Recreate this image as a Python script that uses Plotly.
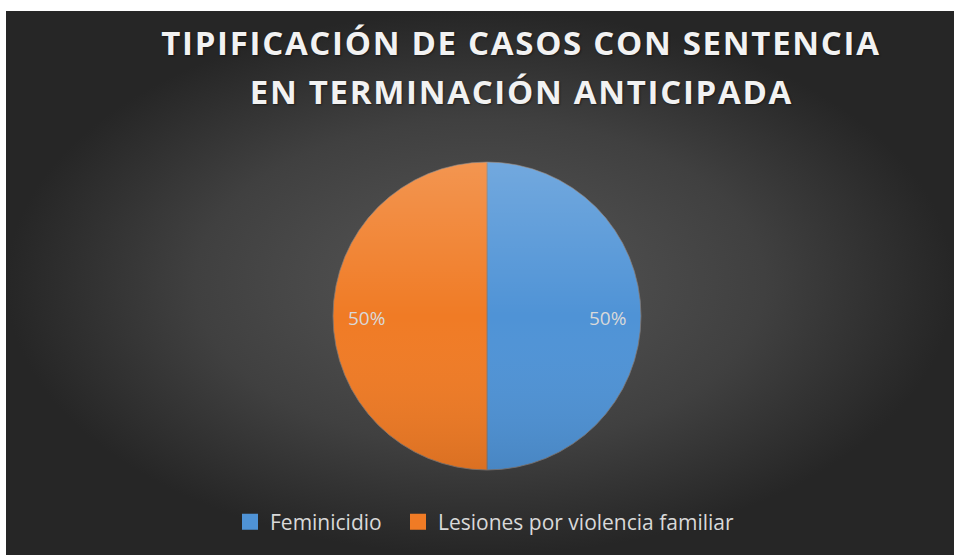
import math
import urllib.parse
import plotly.graph_objects as go

categories = ["Feminicidio", "Lesiones por violencia familiar"]
values = [50, 50]
colors = ["#4f93d6", "#f07b25"]
title_lines = ["TIPIFICACIÓN DE CASOS CON SENTENCIA", "EN TERMINACIÓN ANTICIPADA"]

W, H = 954, 555
bg_x0, bg_y0 = 6 / W, 11 / H  # white margin at left / top

# pie geometry (pixels)
pie_l, pie_r, pie_t, pie_b = 333, 641, 162, 470
cx, cy = (pie_l + pie_r) / 2, (pie_t + pie_b) / 2
rad = (pie_r - pie_l) / 2
pie_dom_x = [pie_l / W, pie_r / W]
pie_dom_y = [1 - pie_b / H, 1 - pie_t / H]

fig = go.Figure()

# background panel with radial gradient
fig.add_trace(go.Scatter(
    x=[0, 1, 1, 0, 0], y=[0, 0, 1, 1, 0], mode="lines", fill="toself",
    line=dict(width=0), hoverinfo="skip", showlegend=False,
    fillgradient=dict(type="radial", colorscale=[[0, "#575757"], [0.6, "#404040"], [1, "#262626"]]),
))

fig.add_trace(go.Pie(
    labels=categories, values=values, sort=False, direction="clockwise", rotation=0,
    marker=dict(colors=colors, line=dict(color="rgba(130,120,115,0.8)", width=1)),
    textinfo="none",
    domain=dict(x=pie_dom_x, y=pie_dom_y),
    hoverinfo="skip", showlegend=False,
))

# legend entries (square markers), one legend per entry for exact placement
legend_names = ["legend", "legend2"]
for name, col, lg in zip(categories, colors, legend_names):
    fig.add_trace(go.Scatter(
        x=[None], y=[None], mode="markers", name=name, legend=lg,
        marker=dict(symbol="square", size=16, color=col, line=dict(width=0)),
        showlegend=True, hoverinfo="skip",
    ))

annotations = []
# percentage labels
total = sum(values)
start = 0.0
for v in values:
    mid = (start + v / 2) / total * 2 * math.pi  # clockwise from 12 o'clock
    start += v
    px = cx + 0.78 * rad * math.sin(mid)
    py = cy - 0.78 * rad * math.cos(mid) + 2
    annotations.append(dict(
        text=f"{round(100 * v / total)}%", x=px / W, y=1 - py / H, xref="paper", yref="paper",
        showarrow=False, xanchor="center", yanchor="middle",
        font=dict(family="Open Sans", size=19, color="#d9d9d9"),
    ))

# title lines
for line, ymid in zip(title_lines, [43, 91]):
    annotations.append(dict(
        text=line, x=521 / W, y=1 - ymid / H, xref="paper", yref="paper",
        showarrow=False, xanchor="center", yanchor="middle",
        font=dict(family="Open Sans", size=33, color="#f2f2f2", weight="bold",
                  shadow="1px 1px 2px rgba(0,0,0,0.45)"),
    ))

# soft vertical shading over the pie disc (light top -> darker bottom)
shade_svg = (
    "<svg xmlns='http://www.w3.org/2000/svg' viewBox='0 0 100 100' preserveAspectRatio='none'>"
    "<defs><linearGradient id='g' x1='0' y1='0' x2='0' y2='1'>"
    "<stop offset='0' stop-color='white' stop-opacity='0.2'/>"
    "<stop offset='0.5' stop-color='white' stop-opacity='0'/>"
    "<stop offset='1' stop-color='black' stop-opacity='0.09'/>"
    "</linearGradient></defs>"
    "<circle cx='50' cy='50' r='50' fill='url(#g)'/></svg>"
)
shade_src = "data:image/svg+xml;charset=utf-8," + urllib.parse.quote(shade_svg)

legend_style = dict(
    orientation="h", xanchor="left", y=1 - 522 / H, yanchor="middle",
    font=dict(family="Open Sans", size=21, color="#d9d9d9"),
    bgcolor="rgba(0,0,0,0)", itemwidth=30,
)

fig.update_layout(
    width=W, height=H,
    margin=dict(l=0, r=0, t=0, b=0),
    paper_bgcolor="white", plot_bgcolor="rgba(0,0,0,0)",
    xaxis=dict(domain=[bg_x0, 1], range=[0, 1], visible=False, fixedrange=True),
    yaxis=dict(domain=[0, 1 - bg_y0], range=[0, 1], visible=False, fixedrange=True),
    annotations=annotations,
    images=[dict(source=shade_src, xref="paper", yref="paper",
                 x=pie_l / W, y=1 - pie_t / H, sizex=(pie_r - pie_l) / W, sizey=(pie_b - pie_t) / H,
                 xanchor="left", yanchor="top", sizing="stretch", layer="above")],
    legend=dict(legend_style, x=230 / W),
    legend2=dict(legend_style, x=398 / W),
    showlegend=True,
)

post = """
document.body.style.margin = '0';
document.querySelectorAll('.annotation-text').forEach(function(t){
  if (t.textContent.length > 10) { t.style.letterSpacing = '1.7px'; }
});
"""
fig.write_html("out.html", post_script=post, config={"displayModeBar": False})
